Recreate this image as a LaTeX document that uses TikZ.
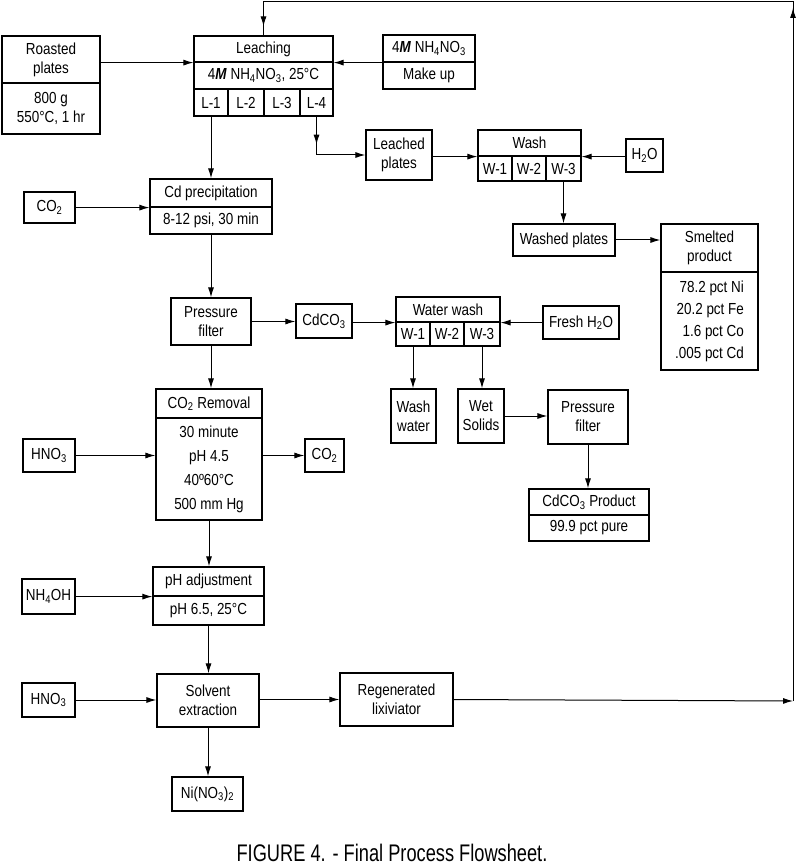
\documentclass[tikz,border=0pt]{standalone}
\usepackage{fontspec}
\setmainfont{Liberation Sans}[FakeStretch=0.84]
\newfontfamily\capfont{Liberation Sans}[FakeStretch=0.76]
\usetikzlibrary{arrows.meta,decorations.markings}

\begin{document}
\begin{tikzpicture}[
  x=1pt,y=-1pt,
  >={Latex[length=10pt,width=6pt]},
  every node/.style={font=\fontsize{16}{19}\selectfont,align=center,inner sep=0pt},
  box/.style={draw,line width=1.2pt},
  flow/.style={->,line width=1pt},
  pipe/.style={line width=1pt},
  midtip/.style={postaction={decorate},decoration={markings,mark=at position #1 with {\arrow{Latex[length=10pt,width=6pt]}}}},
  recyc/.style={postaction={decorate},decoration={markings,
    mark=at position 693pt with {\arrow{Latex[length=10pt,width=6pt]}},
    mark=at position -9pt with {\arrow{Latex[length=10pt,width=6pt]}}}}
]
\path[use as bounding box,fill=white] (0,0) rectangle (800,866);

\node[box,minimum width=98,minimum height=47] (roastT) at (51,59.5) {Roasted\\plates};
\node[box,minimum width=98,minimum height=51] (roastB) at (51,108.5) {800 g\\550°C, 1 hr};

\node[box,minimum width=139,minimum height=26] (leachT) at (263.5,49) {Leaching};
\node[box,minimum width=139,minimum height=27] (leachC) at (263.5,75.5) {4\textit{\textbf{M}} NH\textsubscript{4}NO\textsubscript{3}, 25°C};
\node[box,minimum width=34,minimum height=27] (L1) at (211,102.5) {L-1};
\node[box,minimum width=36,minimum height=27] (L2) at (246,102.5) {L-2};
\node[box,minimum width=36,minimum height=27] (L3) at (282,102.5) {L-3};
\node[box,minimum width=33,minimum height=27] (L4) at (316.5,102.5) {L-4};

\node[box,minimum width=92,minimum height=27] (makeT) at (429,48.5) {4\textit{\textbf{M}} NH\textsubscript{4}NO\textsubscript{3}};
\node[box,minimum width=92,minimum height=27] (makeB) at (429,75.5) {Make up};

\node[box,minimum width=66,minimum height=50] (leached) at (399,155) {Leached\\plates};
\node[box,minimum width=103,minimum height=26] (washT) at (529.5,143) {Wash};
\node[box,minimum width=34,minimum height=25] (W1) at (495,168.5) {W-1};
\node[box,minimum width=34,minimum height=25] (W2) at (529,168.5) {W-2};
\node[box,minimum width=35,minimum height=25] (W3) at (563.5,168.5) {W-3};
\node[box,minimum width=37,minimum height=33] (water) at (644.5,155.5) {H\textsubscript{2}O};

\node[box,minimum width=102,minimum height=32] (washed) at (564,240) {Washed plates};
\node[box,minimum width=97,minimum height=48] (smeltT) at (709.5,248) {Smelted\\product};
\node[box,minimum width=97,minimum height=98,align=right] (smeltB) at (709.5,321)
  {78.2 pct Ni\\[3pt]20.2 pct Fe\\[3pt]1.6 pct Co\\[3pt].005 pct Cd};

\node[box,minimum width=51,minimum height=31] (gasA) at (49.5,207.5) {CO\textsubscript{2}};
\node[box,minimum width=122,minimum height=28] (precT) at (211,193) {Cd precipitation};
\node[box,minimum width=122,minimum height=27] (precB) at (211,220.5) {8-12 psi, 30 min};

\node[box,minimum width=80,minimum height=47] (filterA) at (211,321.5) {Pressure\\filter};
\node[box,minimum width=56,minimum height=34] (cdco) at (324,321) {CdCO\textsubscript{3}};
\node[box,minimum width=104,minimum height=25] (rinseT) at (448,309.5) {Water wash};
\node[box,minimum width=34,minimum height=24] (R1) at (413,334) {W-1};
\node[box,minimum width=34,minimum height=24] (R2) at (447,334) {W-2};
\node[box,minimum width=36,minimum height=24] (R3) at (482,334) {W-3};
\node[box,minimum width=76,minimum height=33] (fresh) at (581,322.5) {Fresh H\textsubscript{2}O};

\node[box,minimum width=45,minimum height=54] (washwater) at (413.5,416) {Wash\\water};
\node[box,minimum width=46,minimum height=54] (wetsolids) at (481,416) {Wet\\Solids};
\node[box,minimum width=80,minimum height=54] (filterB) at (588,417) {Pressure\\filter};
\node[box,minimum width=120,minimum height=26] (prodT) at (589,502) {CdCO\textsubscript{3} Product};
\node[box,minimum width=120,minimum height=26] (prodB) at (589,528) {99.9 pct pure};

\node[box,minimum width=106,minimum height=29] (removT) at (209,403.5) {CO\textsubscript{2} Removal};
\node[box,minimum width=106,minimum height=102] (removB) at (209,469)
  {30 minute\\[5pt]pH 4.5\\[5pt]40º60°C\\[5pt]500 mm Hg};
\node[box,minimum width=52,minimum height=33] (acidA) at (49,455.5) {HNO\textsubscript{3}};
\node[box,minimum width=39,minimum height=33] (gasB) at (324.5,455.5) {CO\textsubscript{2}};

\node[box,minimum width=111,minimum height=29] (adjT) at (208.5,581.5) {pH adjustment};
\node[box,minimum width=111,minimum height=29] (adjB) at (208.5,610.5) {pH 6.5, 25°C};
\node[box,minimum width=53,minimum height=35] (ammonia) at (48.5,596.5) {NH\textsubscript{4}OH};

\node[box,minimum width=102,minimum height=53] (solvent) at (208,700.5) {Solvent\\extraction};
\node[box,minimum width=53,minimum height=34] (acidB) at (48.5,700) {HNO\textsubscript{3}};
\node[box,minimum width=113,minimum height=53] (regen) at (396.5,699.5) {Regenerated\\lixiviator};
\node[box,minimum width=71,minimum height=34] (nitrate) at (207.5,794) {Ni(NO\textsubscript{3})\textsubscript{2}};

\node[font=\capfont\fontsize{24}{28}\selectfont] (caption) at (392,853) {FIGURE 4. - Final Process Flowsheet.};

\coordinate (recycB) at (793,701);
\coordinate (recycA) at (793,2);

\draw[flow] (roastT.east |- leachT.south west) -- (leachT.south west);
\draw[flow] (makeT.south west) -- (leachT.south east);
\draw[flow,midtip=28pt] (L4.south) -- (L4.south |- leached.west) -- (leached.west);
\draw[flow] (leached.east |- washT.south west) -- (washT.south west);
\draw[flow] (water.west |- washT.south east) -- (washT.south east);
\draw[flow] (W3.south) -- (W3.south |- washed.north);
\draw[flow] (washed.east) -- (washed.east -| smeltT.west);

\draw[flow] (L1.south) -- (precT.north);
\draw[flow] (gasA.east |- precT.south west) -- (precT.south west);
\draw[flow] (precB.south) -- (filterA.north);
\draw[flow] (filterA.east) -- (filterA.east -| cdco.west);
\draw[flow] (cdco.east |- rinseT.south west) -- (rinseT.south west);
\draw[flow] (fresh.west |- rinseT.south east) -- (rinseT.south east);
\draw[flow] (R1.south) -- (R1.south |- washwater.north);
\draw[flow] (R3.south) -- (R3.south |- wetsolids.north);
\draw[flow] (wetsolids.east) -- (wetsolids.east -| filterB.west);
\draw[flow] (filterB.south) -- (filterB.south |- prodT.north);

\draw[flow] (filterA.south) -- (filterA.south |- removT.north);
\draw[flow] (acidA.east) -- (acidA.east -| removB.west);
\draw[flow] (removB.east |- gasB.west) -- (gasB.west);
\draw[flow] (removB.south) -- (removB.south |- adjT.north);
\draw[flow] (ammonia.east |- adjT.south west) -- (adjT.south west);
\draw[flow] (adjB.south) -- (adjB.south |- solvent.north);
\draw[flow] (acidB.east) -- (acidB.east -| solvent.west);
\draw[flow] (solvent.east |- regen.west) -- (regen.west);
\draw[flow] (solvent.south) -- (solvent.south |- nitrate.north);

\draw[flow] (regen.east) -- (recycB);
\draw[pipe,recyc] (recycB) -- (recycA) -- (leachT.north |- recycA) -- (leachT.north);
\end{tikzpicture}
\end{document}
